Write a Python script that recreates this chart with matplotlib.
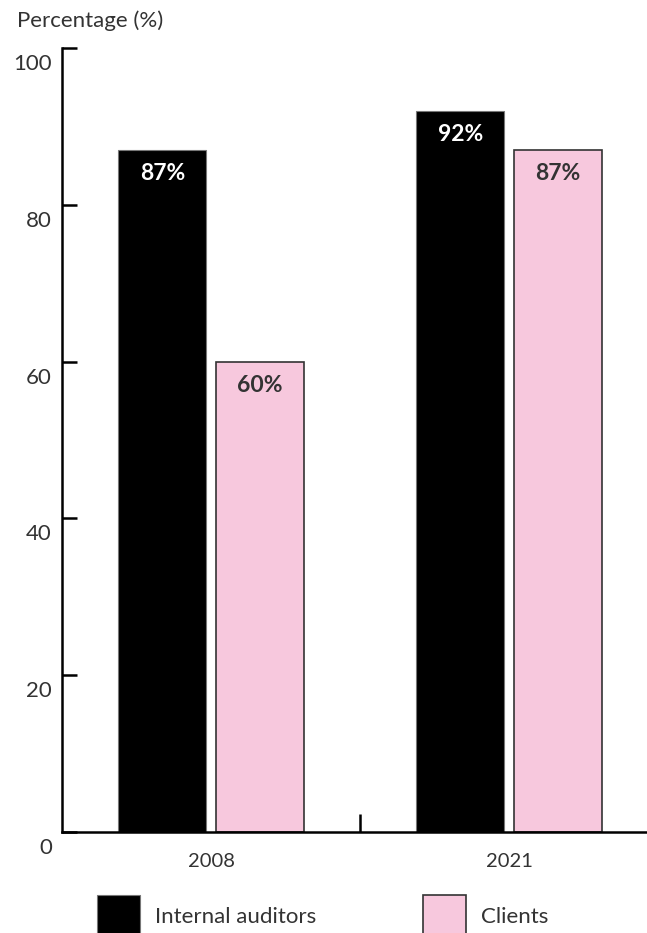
import numpy as np
import matplotlib.pyplot as plt
from matplotlib.transforms import ScaledTranslation

years = ['2008', '2021']
internal = [87, 92]
clients = [60, 87]
yticks = [0, 20, 40, 60, 80, 100]

plt.rcParams['font.family'] = ['Lato', 'DejaVu Sans']
txt = '#333333'
pink = '#F7C8DD'

fig = plt.figure(figsize=(6.47, 9.33), dpi=100)
ax = fig.add_axes([62/647, 101/933, 585/647, 784/933])

x = np.arange(len(years))
w = 0.295
off = 0.163
b1 = ax.bar(x - off, internal, w, color='black', edgecolor='#777777', linewidth=0.8, label='Internal auditors')
b2 = ax.bar(x + off, clients, w, color=pink, edgecolor='#333333', linewidth=1.2, label='Clients')

ax.set_xlim(-0.5, 1.463)
ax.set_ylim(0, 100)

for s in ['top', 'right']:
    ax.spines[s].set_visible(False)
for s in ['left', 'bottom']:
    ax.spines[s].set_linewidth(1.8)
    ax.spines[s].set_color('black')

ax.set_xticks(x)
ax.set_xticklabels(years, fontsize=14.5, color=txt)
ax.tick_params(axis='x', which='major', length=0, pad=15)
ax.set_xticks([0.5], minor=True)
ax.tick_params(axis='x', which='minor', direction='in', length=13, width=1.8, color='black')

ax.set_yticks(yticks)
ax.tick_params(axis='y', direction='in', length=11, width=1.8, color='black', labelleft=False)
lab_tr = ax.get_yaxis_transform() + ScaledTranslation(-0.10, -0.16, fig.dpi_scale_trans)
for v in yticks:
    ax.text(0, v, str(v), transform=lab_tr, ha='right', va='center', fontsize=16, color=txt)

for bars, vals, col in [(b1, internal, 'white'), (b2, clients, txt)]:
    for r, v in zip(bars, vals):
        ax.annotate(f'{v}%', (r.get_x() + r.get_width()/2, v), xytext=(0, -17),
                    textcoords='offset points', ha='center', va='center',
                    fontsize=16.5, fontweight='bold', color=col)

fig.text(17/647, 1 - 21/933, 'Percentage (%)', fontsize=16, color=txt, va='center', ha='left')

fig.legend(handles=[b1, b2], loc='upper left', bbox_to_anchor=(97/647, 1 - 895/933),
           ncol=2, frameon=False, fontsize=16, borderpad=0, borderaxespad=0,
           handlelength=1.95, handleheight=2.6, handletextpad=0.68, columnspacing=4.78,
           labelcolor=txt)

fig.savefig('out.png', dpi=100)
